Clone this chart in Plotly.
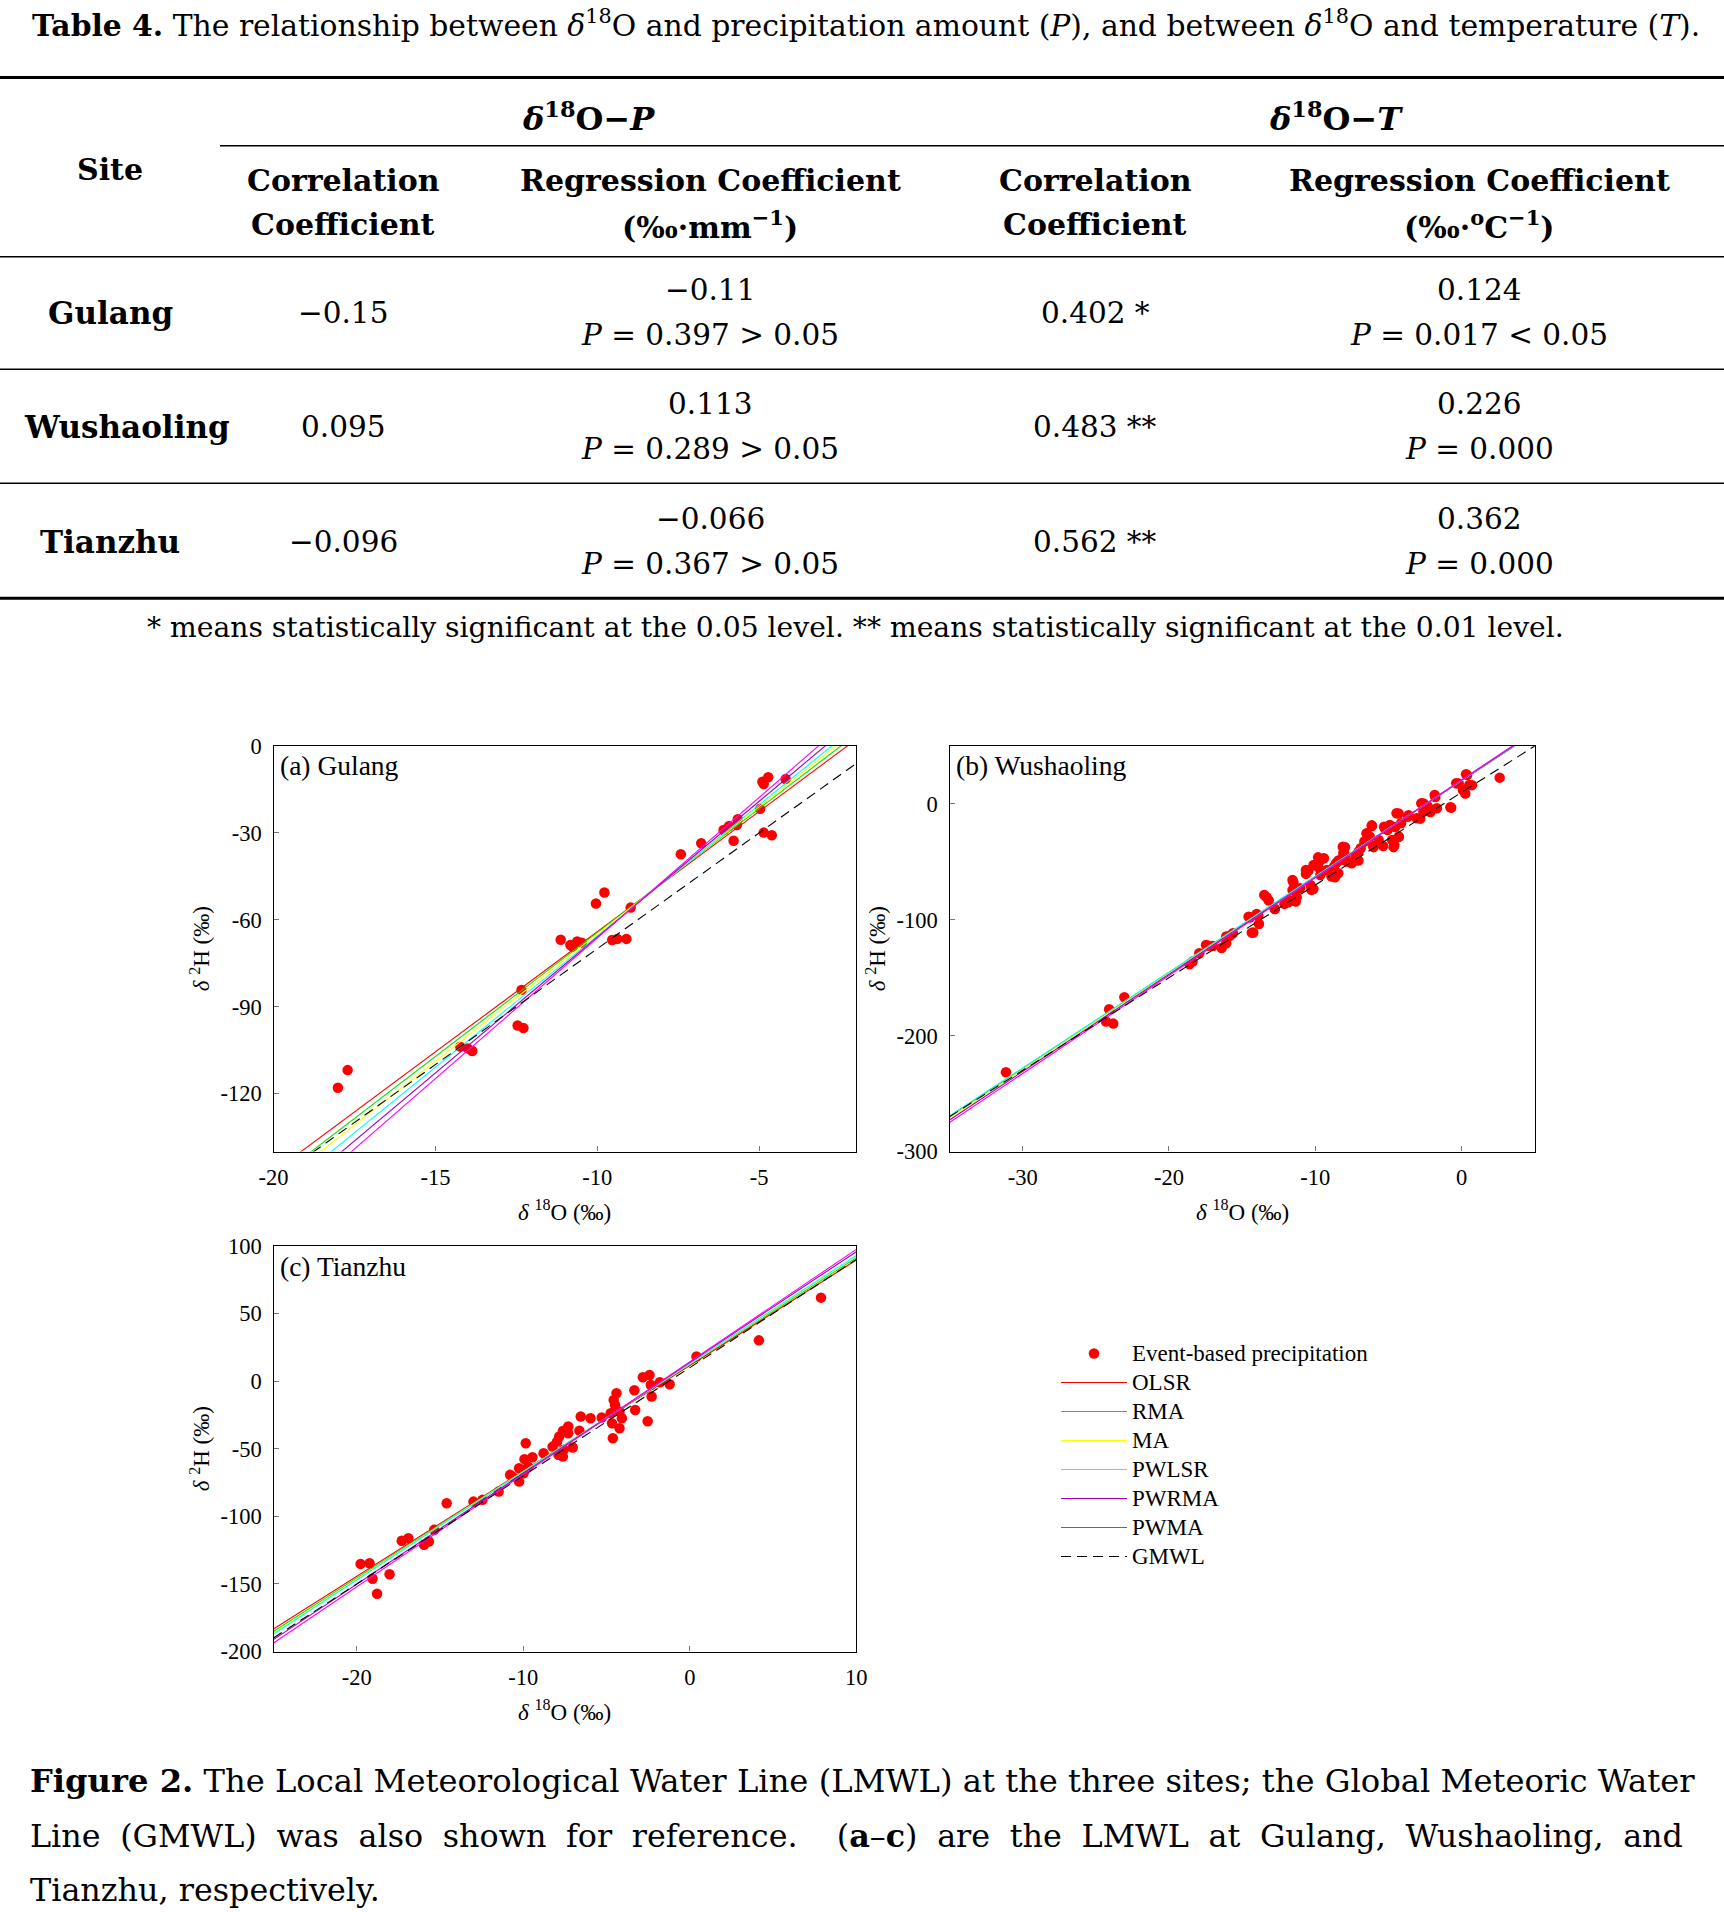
import plotly.graph_objects as go

W, H = 1724, 1912
TF = "DejaVu Serif"        # table / caption font
CF = "Liberation Serif"    # chart font

# ---------------- table data ----------------
table_title = ("<b>Table 4.</b> The relationship between <i>δ</i><sup>18</sup>O and precipitation amount "
               "(<i>P</i>), and between <i>δ</i><sup>18</sup>O and temperature (<i>T</i>).")
group_headers = ["<b><i>δ</i><sup>18</sup>O−<i>P</i></b>", "<b><i>δ</i><sup>18</sup>O−<i>T</i></b>"]
col_head_1 = ["<b>Correlation</b>", "<b>Regression Coefficient</b>", "<b>Correlation</b>", "<b>Regression Coefficient</b>"]
col_head_2 = ["<b>Coefficient</b>", "<b>(‰·mm<sup>−1</sup>)</b>", "<b>Coefficient</b>", "<b>(‰·<sup>o</sup>C<sup>−1</sup>)</b>"]
sites = ["Gulang", "Wushaoling", "Tianzhu"]
p_corr = ["−0.15", "0.095", "−0.096"]
p_reg = ["−0.11", "0.113", "−0.066"]
p_reg_p = ["<i>P</i> = 0.397 &gt; 0.05", "<i>P</i> = 0.289 &gt; 0.05", "<i>P</i> = 0.367 &gt; 0.05"]
t_corr = ["0.402 *", "0.483 **", "0.562 **"]
t_reg = ["0.124", "0.226", "0.362"]
t_reg_p = ["<i>P</i> = 0.017 &lt; 0.05", "<i>P</i> = 0.000", "<i>P</i> = 0.000"]
footnote = "* means statistically significant at the 0.05 level. ** means statistically significant at the 0.01 level."
caption_lines = [
    "<b>Figure 2.</b> The Local Meteorological Water Line (LMWL) at the three sites; the Global Meteoric Water",
    "Line (GMWL) was also shown for reference.  (<b>a</b>–<b>c</b>) are the LMWL at Gulang, Wushaoling, and",
    "Tianzhu, respectively.",
]
caption_justify = [False, True, False]
caption_size = [32.2, 31.8, 31.8]

# ---------------- chart data ----------------
methods = ["OLSR", "RMA", "MA", "PWLSR", "PWRMA", "PWMA"]
method_colors = ["#ff0000", "#00e600", "#ffff00", "#00ffff", "#a000b0", "#ff00ff"]
gmwl_slope, gmwl_int = 8.0, 10.0

gulang_o18 = [-4.72, -4.90, -4.86, -4.18, -4.97, -5.66, -5.69, -5.93, -6.10, -5.79, -4.86, -4.61, -6.79,
              -7.42, -10.04, -9.78, -8.97, -11.13, -10.83, -10.62, -10.48, -10.76, -9.54, -9.38, -9.10,
              -12.34, -12.46, -12.28, -14.23, -14.00, -13.86, -17.71, -18.01]
gulang_h2 = [-10.8, -12.3, -13.1, -11.4, -21.7, -25.3, -27.3, -27.6, -29.0, -32.7, -29.9, -30.8, -33.6,
             -37.4, -54.4, -50.6, -55.8, -66.9, -68.7, -67.5, -67.9, -69.3, -67.0, -66.6, -66.6,
             -84.2, -96.5, -97.4, -103.8, -104.4, -105.3, -111.9, -118.0]
gulang_slope = [8.30, 8.56, 8.79, 9.06, 9.38, 9.71]
gulang_int = [18.9, 21.2, 23.0, 25.0, 27.8, 30.8]

wsl_o18 = [-31.14, -24.09, -24.30, -23.81, -23.05, -18.60, -18.39, -17.93, -17.47, -17.01, -16.40, -16.09,
           -16.09, -15.63, -14.56, -14.34, -14.01, -13.85, -13.49, -13.18, -12.78, -12.11, -11.80, -11.56,
           -11.56, -11.34, -11.04, -10.64, -10.64, -10.33, -10.27, -10.12, -9.81, -9.66, -9.41, -9.20,
           -8.89, -8.74, -8.58, -8.43, -8.28, -8.12, -8.06, -7.97, -7.82, -7.51, -7.26, -7.05, -6.90,
           -6.65, -6.50, -6.28, -6.13, -6.04, -5.67, -5.37, -5.30, -5.06, -4.91, -4.75, -4.60, -4.45,
           -4.29, -4.14, -3.68, -3.07, -2.76, -2.61, -2.30, -1.84, -1.69, -0.77, -0.37, 0.09, 0.30, 0.52,
           2.60, 0.37, -0.20, 0.25, 0.71, -0.71, -1.80, -2.60, -2.14, -2.83, -4.31, -3.62, -4.54, -5.23,
           -6.14, -6.48, -4.31, -4.65, -6.02, -7.05, -7.97, -8.08, -8.42, -8.65, -9.68, -9.79, -10.47,
           -11.50, -11.27, -10.13, -13.33, -12.76, -11.84, -14.47, -13.90, -14.24, -15.84, -17.32]
wsl_h2 = [-231.6, -177.2, -187.9, -189.6, -166.9, -138.4, -136.1, -128.9, -121.7, -122.6, -124.3, -120.3,
          -114.5, -111.6, -97.3, -111.1, -95.0, -103.6, -78.6, -83.4, -90.6, -86.3, -82.9, -65.6,
          -74.2, -84.3, -72.8, -60.4, -57.0, -69.9, -74.2, -52.7, -46.1, -61.3, -46.9, -57.0,
          -62.7, -54.1, -51.2, -59.9, -48.4, -36.9, -41.2, -44.0, -49.8, -51.2, -45.5, -41.2, -38.3,
          -32.5, -25.4, -28.2, -19.0, -36.3, -31.1, -36.3, -19.6, -22.5, -18.2, -31.1, -35.4, -8.1,
          -28.2, -16.7, -11.0, -12.4, 0.5, -6.7, -2.3, 7.7, -3.8, -2.9, 17.8, 12.0, 25.6, 16.4,
          22.7, 24.9, 17.7, 9.0, 16.2, -3.2, 6.0, 0.3, -7.0, -12.7, -8.3, -9.8, -20.0, -21.4,
          -18.5, -25.7, -28.6, -37.3, -37.3, -48.8, -37.3, -43.0, -48.8, -63.3, -48.8, -54.6, -57.5,
          -67.6, -80.6, -73.4, -80.6, -90.7, -85.0, -98.0, -96.5, -111.0, -113.8, -122.5]
wsl_slope = [8.28, 8.30, 8.32, 8.27, 8.38, 8.45]
wsl_int = [20.0, 20.3, 20.4, 20.2, 20.5, 20.8]

tz_o18 = [7.88, 4.15, 0.40, -2.42, -2.82, -2.34, -2.29, -1.80, -1.21, -2.53, -3.33, -3.28, -4.40, -4.57,
          -4.49, -4.22, -4.08, -4.22, -4.67, -4.62, -4.75, -5.29, -5.96, -6.55, -6.63, -7.03, -7.30,
          -7.62, -7.30, -7.57, -7.84, -7.97, -8.24, -7.89, -7.62, -8.78, -9.85, -9.45, -9.93, -9.71,
          -9.98, -10.25, -10.65, -10.25, -10.79, -11.48, -12.45, -12.99, -14.60, -15.35, -15.67, -15.96,
          -16.90, -17.30, -18.03, -19.05, -18.78, -19.23, -19.77]
tz_h2 = [61.8, 30.2, 18.2, 4.6, 2.9, -2.8, -11.4, -0.8, -2.3, -29.7, -6.7, -21.3, -8.9, -13.9,
         -17.6, -22.5, -27.4, -34.8, -31.1, -42.2, -23.7, -26.9, -27.4, -26.2, -36.6, -49.1, -38.5,
         -36.8, -33.6, -50.8, -41.0, -44.7, -48.4, -54.5, -55.8, -53.3, -45.9, -56.3, -57.7, -63.2,
         -68.1, -64.4, -70.6, -74.3, -69.3, -81.7, -87.8, -89.1, -90.3, -110.0, -118.6, -121.1,
         -116.2, -118.1, -142.8, -146.2, -157.3, -134.7, -135.2]
tz_slope = [7.80, 7.90, 7.96, 8.00, 8.20, 8.32]
tz_int = [11.6, 12.3, 12.7, 13.0, 13.8, 14.3]

panel_labels = ["(a) Gulang", "(b) Wushaoling", "(c) Tianzhu"]
x_ranges = [[-20, -2], [-35, 5], [-25, 10]]
y_ranges = [[-140, 0], [-300, 50], [-200, 100]]
x_ticks = [[-20, -15, -10, -5], [-30, -20, -10, 0], [-20, -10, 0, 10]]
y_ticks = [[0, -30, -60, -90, -120], [0, -100, -200, -300], [100, 50, 0, -50, -100, -150, -200]]
x_title = "<i>δ</i> <sup>18</sup>O (‰)"
y_title = "<i>δ</i> <sup>2</sup>H (‰)"

# ---------------- helpers ----------------
def px(x):
    return x / W


def py(y):
    return 1 - y / H


def leg_name(s):
    return '<span style="font-size:23px">' + s + "</span>"


annotations = []
shapes = []


def text(x, y, s, size, family=TF, xanchor="center", yanchor="middle", angle=0):
    annotations.append(dict(x=px(x), y=py(y), xref="paper", yref="paper", text=s, showarrow=False,
                            font=dict(size=size, family=family, color="black"),
                            xanchor=xanchor, yanchor=yanchor, textangle=angle))


def hline(y, x0, x1, w):
    shapes.append(dict(type="line", xref="paper", yref="paper", x0=px(x0), x1=px(x1), y0=py(y), y1=py(y),
                       line=dict(color="black", width=w)))


# ---------------- table ----------------
text(30, 23.5, table_title, 29.8, xanchor="left")
hline(77.5, 0, W, 3)
text(588, 117, group_headers[0], 32)
text(1336, 117, group_headers[1], 32)
hline(145.7, 220, W, 1.5)
text(110, 170, "<b>Site</b>", 30)
col_x = [343, 710, 1095, 1479]
for i in range(4):
    text(col_x[i], 180, col_head_1[i], 30)
    text(col_x[i], 225, col_head_2[i], 30)
hline(256.7, 0, W, 1.5)
row_mid = [313, 426.7, 541.7]
site_x = [110, 127, 110]
for r in range(3):
    ym = row_mid[r]
    text(site_x[r], ym, "<b>" + sites[r] + "</b>", 31)
    text(col_x[0], ym, p_corr[r], 29.5)
    text(col_x[1], ym - 23, p_reg[r], 29.5)
    text(col_x[1], ym + 22, p_reg_p[r], 29.5)
    text(col_x[2], ym, t_corr[r], 29.5)
    text(col_x[3], ym - 23, t_reg[r], 29.5)
    text(col_x[3], ym + 22, t_reg_p[r], 29.5)
hline(369.3, 0, W, 1.5)
hline(483.3, 0, W, 1.5)
hline(598.3, 0, W, 3)
text(855, 627, footnote, 28.2)

# caption (line 2 is stretched with thin spaces to imitate justification)
cap_y = [1781, 1835, 1889]
for i, line in enumerate(caption_lines):
    s = line.replace(" ", " \u2009\u200a") if caption_justify[i] else line
    text(28, cap_y[i], s, caption_size[i], xanchor="left")

# ---------------- charts ----------------
domains = [
    ([273.5, 856.3], [746, 1151.5]),
    ([949.5, 1534.8], [746, 1151.5]),
    ([273.5, 856.3], [1246, 1651.5]),
]
data_sets = [(gulang_o18, gulang_h2, gulang_slope, gulang_int),
             (wsl_o18, wsl_h2, wsl_slope, wsl_int),
             (tz_o18, tz_h2, tz_slope, tz_int)]

fig = go.Figure()
layout_axes = {}
for k in range(3):
    ax = "" if k == 0 else str(k + 1)
    xs, ys, slopes, ints = data_sets[k]
    fig.add_trace(go.Scatter(x=xs, y=ys, mode="markers", name=leg_name("Event-based precipitation"),
                             marker=dict(color="#ff0000", size=10.5), showlegend=(k == 0),
                             xaxis="x" + ax, yaxis="y" + ax))
    x0, x1 = x_ranges[k]
    for m in range(len(methods)):
        fig.add_trace(go.Scatter(x=[x0, x1], y=[slopes[m] * x0 + ints[m], slopes[m] * x1 + ints[m]],
                                 mode="lines", name=leg_name(methods[m]),
                                 line=dict(color=method_colors[m], width=1.1), showlegend=(k == 0),
                                 xaxis="x" + ax, yaxis="y" + ax))
    fig.add_trace(go.Scatter(x=[x0, x1], y=[gmwl_slope * x0 + gmwl_int, gmwl_slope * x1 + gmwl_int],
                             mode="lines", name=leg_name("GMWL"),
                             line=dict(color="black", width=1.1, dash="10px,6px"), showlegend=(k == 0),
                             xaxis="x" + ax, yaxis="y" + ax))
    (dx0, dx1), (dy0, dy1) = domains[k]
    common = dict(showgrid=False, zeroline=False, showline=True, mirror=True, linecolor="black",
                  linewidth=1.3, ticks="inside", ticklen=5, tickwidth=1.3, tickcolor="#777777",
                  tickfont=dict(family=CF, size=22.5, color="black"), automargin=False)
    layout_axes["xaxis" + ax] = dict(domain=[px(dx0), px(dx1)], range=x_ranges[k], anchor="y" + ax,
                                     tickvals=x_ticks[k], ticktext=[str(v) for v in x_ticks[k]],
                                     ticklabelstandoff=5, **common)
    layout_axes["yaxis" + ax] = dict(domain=[py(dy1), py(dy0)], range=y_ranges[k], anchor="x" + ax,
                                     tickvals=y_ticks[k], ticktext=[str(v) for v in y_ticks[k]],
                                     ticklabelstandoff=6, **common)
    # panel label and axis titles
    text(dx0 + 4, dy0 + 20, panel_labels[k], 27.5, family=CF, xanchor="left")
    text((dx0 + dx1) / 2, dy1 + 59, x_title, 23, family=CF)
    text(dx0 - 73, (dy0 + dy1) / 2, y_title, 23, family=CF, angle=-90)

fig.update_layout(
    width=W, height=H, margin=dict(l=0, r=0, t=0, b=0, pad=0, autoexpand=False),
    paper_bgcolor="white", plot_bgcolor="white",
    annotations=annotations, shapes=shapes,
    legend=dict(x=px(1056), y=py(1334), xanchor="left", yanchor="top",
                font=dict(family=CF, size=20, color="black"), bgcolor="rgba(0,0,0,0)",
                itemwidth=66, tracegroupgap=0),
    **layout_axes,
)

fig.write_html("out.html", config={"displayModeBar": False},
               post_script="document.body.style.margin='0';document.body.style.overflow='hidden';")
